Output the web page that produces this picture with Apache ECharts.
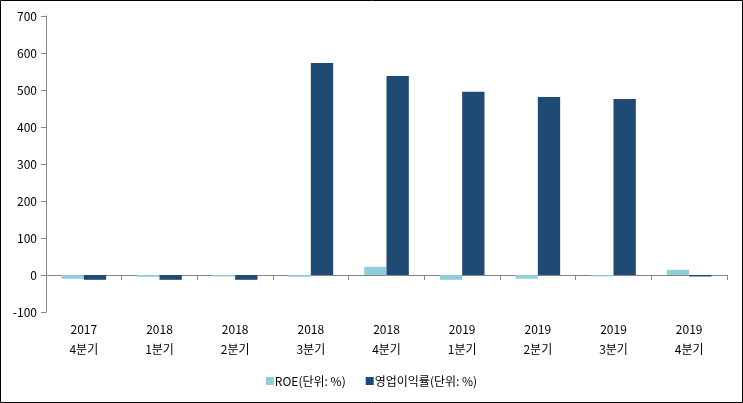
<!DOCTYPE html>
<html><head><meta charset="utf-8">
<script src="https://cdn.jsdelivr.net/npm/echarts@6/dist/echarts.min.js"></script>
<style>html,body{margin:0;padding:0;background:#fff}#c{width:743px;height:403px}</style>
</head><body><div id="c"></div>
<script>
const categories = ['2017\n4분기','2018\n1분기','2018\n2분기','2018\n3분기','2018\n4분기','2019\n1분기','2019\n2분기','2019\n3분기','2019\n4분기'];
const roe = [-10, -5, -4, -5, 22, -13, -10, -4, 14];
const opMargin = [-13, -13, -13, 573, 538, 495, 481, 476, -4];
const seriesNames = ['ROE(단위: %)', '영업이익률(단위: %)'];
const yTicks = {min: -100, max: 700, interval: 100};

const font = '"Noto Sans CJK KR", "DejaVu Sans", sans-serif';
const chart = echarts.init(document.getElementById('c'));
chart.setOption({
  animation: false,
  textStyle: {fontFamily: font},
  graphic: [{type: 'rect', shape: {x: 0.5, y: 0.5, width: 742, height: 402}, style: {fill: 'none', stroke: '#000', lineWidth: 1}}],
  grid: {left: 46, right: 16, top: 16, bottom: 91},
  legend: {
    bottom: 11, left: 'center', itemWidth: 8, itemHeight: 8, itemGap: 20,
    icon: 'rect',
    textStyle: {fontFamily: font, fontSize: 12, color: '#000', padding: [0,0,0,-4]},
    data: seriesNames
  },
  xAxis: [{
    type: 'category', data: categories,
    axisLine: {onZero: true, lineStyle: {color: '#868686'}},
    axisTick: {show: true, length: 5, lineStyle: {color: '#868686'}},
    axisLabel: {show: false}
  }, {
    type: 'category', data: categories, position: 'bottom',
    axisLine: {show: false}, axisTick: {show: false},
    axisLabel: {fontFamily: font, fontSize: 12, color: '#000', lineHeight: 20, margin: 7}
  }],
  yAxis: {
    type: 'value', min: yTicks.min, max: yTicks.max, interval: yTicks.interval,
    axisLine: {show: true, lineStyle: {color: '#868686'}},
    axisTick: {show: true, length: 5, lineStyle: {color: '#868686'}},
    splitLine: {show: false},
    axisLabel: {fontFamily: font, fontSize: 12, color: '#000', margin: 9}
  },
  series: [
    {name: seriesNames[0], type: 'bar', data: roe, itemStyle: {color: '#92CDDC'}, barGap: '0%', barCategoryGap: '41%'},
    {name: seriesNames[1], type: 'bar', data: opMargin, itemStyle: {color: '#1F4A73'}, barGap: '0%', barCategoryGap: '41%'}
  ]
});
</script></body></html>
